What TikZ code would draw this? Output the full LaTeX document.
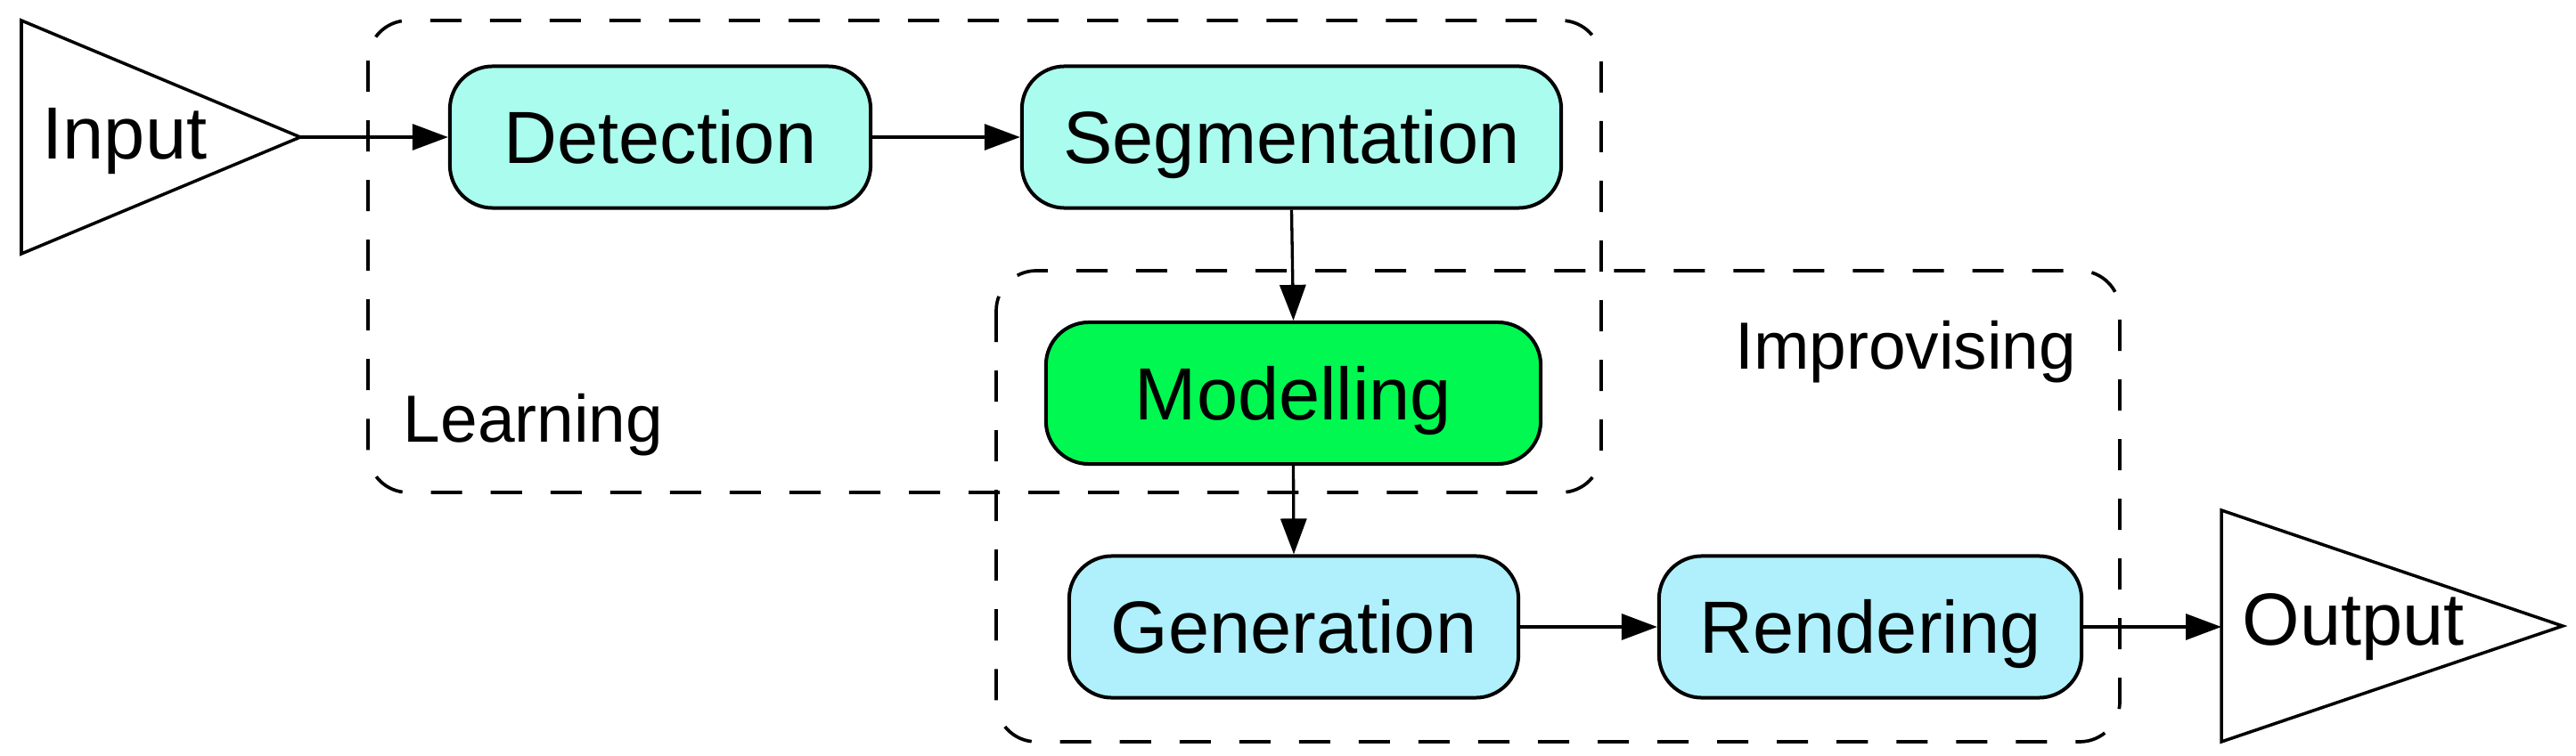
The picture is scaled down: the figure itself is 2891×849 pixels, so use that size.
\documentclass[tikz,border=0pt]{standalone}
\usepackage{fontspec}
\setmainfont{Liberation Sans}
\usetikzlibrary{arrows.meta}
\definecolor{detcol}{HTML}{AAFCEE}
\definecolor{modcol}{HTML}{00F850}
\definecolor{gencol}{HTML}{AFF0FC}
\begin{document}
\begin{tikzpicture}[x=0.01cm,y=-0.01cm,
  boxtext/.style={font=\fontsize{23.6}{28}\selectfont, text height=0.594cm, text depth=0pt, inner sep=0pt},
  stepbox/.style={boxtext, draw, line width=0.04cm, rounded corners=0.48cm, minimum height=1.59cm},
  grouplabel/.style={font=\fontsize{21.3}{25}\selectfont, inner sep=0pt},
  groupbox/.style={draw, line width=0.037cm, dash pattern=on 0.35cm off 0.32cm, rounded corners=0.45cm},
  conn/.style={line width=0.033cm, -{Triangle[length=0.4cm,width=0.29cm]}},
  term/.style={draw, line width=0.035cm, line join=miter}]
\useasboundingbox (0,0) rectangle (2891,849);
% group boxes
\draw[groupbox] (413,23) rectangle (1797,553);
\draw[groupbox] (1118,304) rectangle (2379,833);
\node[grouplabel, anchor=base west] (learn) at (452,497) {Learning};
\node[grouplabel, anchor=base east] (impro) at (2331,415) {Improvising};
% terminals
\draw[term] (24,23) -- (24,285) -- (337,154) -- cycle;
\coordinate (inapex) at (337,154);
\node[boxtext] (input) at (140,149) {Input};
\draw[term] (2493,573) -- (2493,833) -- (2876,703) -- cycle;
\coordinate (outleft) at (2493,704);
\node[boxtext] (output) at (2641,695) {Output};
% steps
\node[stepbox, fill=detcol, minimum width=4.72cm] (det) at (741,154) {Detection};
\node[stepbox, fill=detcol, minimum width=6.05cm] (seg) at (1449.5,154) {Segmentation};
\node[stepbox, fill=modcol, minimum width=5.55cm] (mod) at (1451.5,441.5) {Modelling};
\node[stepbox, fill=gencol, minimum width=5.04cm] (gen) at (1452,704) {Generation};
\node[stepbox, fill=gencol, minimum width=4.74cm] (ren) at (2099,704) {Rendering};
% connectors
\draw[conn] (inapex) -- (det.west);
\draw[conn] (det.east) -- (seg.west);
\draw[conn] (seg.south) -- (mod.north);
\draw[conn] (mod.south) -- (gen.north);
\draw[conn] (gen.east) -- (ren.west);
\draw[conn] (ren.east) -- (outleft);
\end{tikzpicture}
\end{document}
